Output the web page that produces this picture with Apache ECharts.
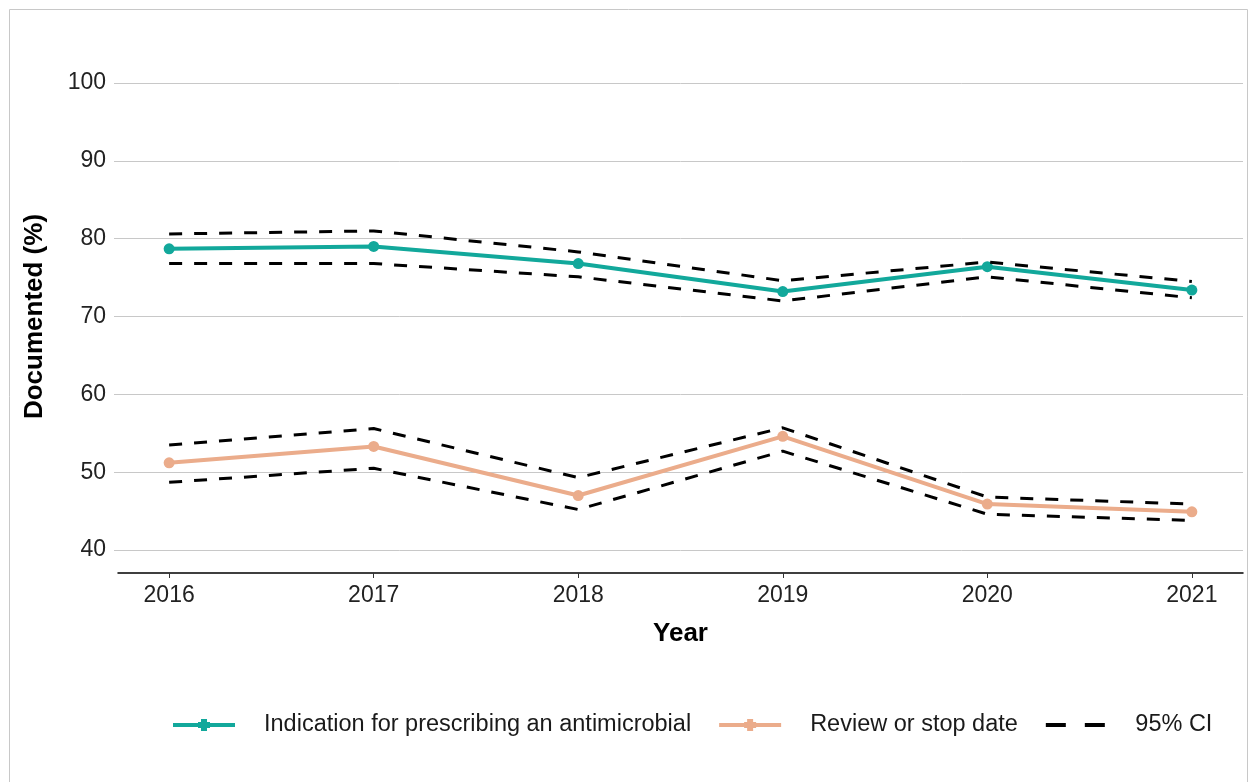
<!DOCTYPE html>
<html>
<head>
<meta charset="utf-8">
<script src="https://cdn.jsdelivr.net/npm/echarts@6/dist/echarts.min.js"></script>
<style>
  html, body { margin: 0; padding: 0; background: #ffffff; }
  #chart { width: 1250px; height: 782px; }
</style>
</head>
<body>
<div id="chart"></div>
<script>
// data
const years = [2016, 2017, 2018, 2019, 2020, 2021]
const indication = [78.7, 79.0, 76.8, 73.2, 76.4, 73.4]
const indicationUpper = [80.6, 81.0, 78.3, 74.6, 77.0, 74.5]
const indicationLower = [76.8, 76.8, 75.1, 72.0, 75.1, 72.4]
const review = [51.2, 53.3, 47.0, 54.6, 45.9, 44.9]
const reviewUpper = [53.5, 55.6, 49.3, 55.7, 46.8, 45.9]
const reviewLower = [48.7, 50.5, 45.2, 52.7, 44.6, 43.8]

const font = 'Liberation Sans, Arial, sans-serif'
const teal = '#12a89b'
const peach = '#ebac8b'

// 图例图标：线 + 小标记，虚线两段
const lineIcon = 'path://M0,5H62V9H0Z M28,1H34V4H37V10H34V13H28V10H25V4H28Z'
const dashIcon = 'path://M0,5H20V9H0Z M39,5H59V9H39Z M0,0H0.01V0.01H0Z M0,14H0.01V13.99H0Z'

const pairs = (vals) => years.map((y, i) => [y, vals[i]])

// 95% CI 虚线
const ciLine = (vals) => ({
    name: '95% CI',
    type: 'line',
    data: pairs(vals),
    showSymbol: false,
    symbol: 'none',
    z: 5,
    lineStyle: { color: '#000000', width: 3, type: [13, 12] },
    itemStyle: { color: '#000000' },
    emphasis: { disabled: true }
})

const mainLine = (name, vals, color) => ({
    name: name,
    type: 'line',
    data: pairs(vals),
    symbol: 'circle',
    symbolSize: 11,
    z: 3,
    lineStyle: { color: color, width: 4 },
    itemStyle: { color: color },
    emphasis: { disabled: true }
})

const chart = echarts.init(document.getElementById('chart'))
const option = {
    backgroundColor: '#ffffff',
    animation: false,
    textStyle: { fontFamily: font },
    graphic: [{
        type: 'rect',
        shape: { x: 9.5, y: 9.5, width: 1238, height: 790 },
        style: { fill: 'none', stroke: '#c8c8c8', lineWidth: 1 },
        silent: true
    }],
    grid: { left: 118, right: 7, top: 83, bottom: 232 },
    legend: {
        left: 168,
        top: 708,
        itemWidth: 62,
        itemHeight: 14,
        itemGap: 28,
        data: [
            { name: 'Indication for prescribing an antimicrobial', icon: lineIcon, itemStyle: { color: teal } },
            { name: 'Review or stop date', icon: lineIcon, itemStyle: { color: peach } },
            { name: '95% CI', icon: dashIcon, itemStyle: { color: '#000000' } }
        ],
        textStyle: { fontSize: 23.5, color: '#1a1a1a', fontFamily: font, padding: [0, 0, 0, 24] }
    },
    xAxis: {
        type: 'value',
        min: 2015.75,
        max: 2021.25,
        offset: 23,
        name: 'Year',
        nameLocation: 'middle',
        nameGap: 48,
        nameTextStyle: { fontSize: 26, fontWeight: 'bold', color: '#000000', fontFamily: font },
        axisLine: { show: true, lineStyle: { color: '#000000', width: 1.5 } },
        axisTick: { show: true, length: 5, customValues: years, lineStyle: { color: '#333333' } },
        axisLabel: {
            customValues: years,
            formatter: (v) => String(v),
            fontSize: 23,
            color: '#222222',
            margin: 11
        },
        splitLine: { show: false }
    },
    yAxis: {
        type: 'value',
        min: 40,
        max: 100,
        interval: 10,
        name: 'Documented (%)',
        nameLocation: 'middle',
        nameRotate: 90,
        nameGap: 70,
        nameTextStyle: { fontSize: 26, fontWeight: 'bold', color: '#000000', fontFamily: font },
        axisLine: { show: false },
        axisTick: { show: true, length: 4, lineStyle: { color: '#c8c8c8' } },
        axisLabel: { fontSize: 23, color: '#222222', margin: 12 },
        splitLine: { show: true, lineStyle: { color: '#c8c8c8', width: 1 } }
    },
    series: [
        mainLine('Indication for prescribing an antimicrobial', indication, teal),
        mainLine('Review or stop date', review, peach),
        ciLine(indicationUpper),
        ciLine(indicationLower),
        ciLine(reviewUpper),
        ciLine(reviewLower)
    ]
}
chart.setOption(option)
</script>
</body>
</html>
